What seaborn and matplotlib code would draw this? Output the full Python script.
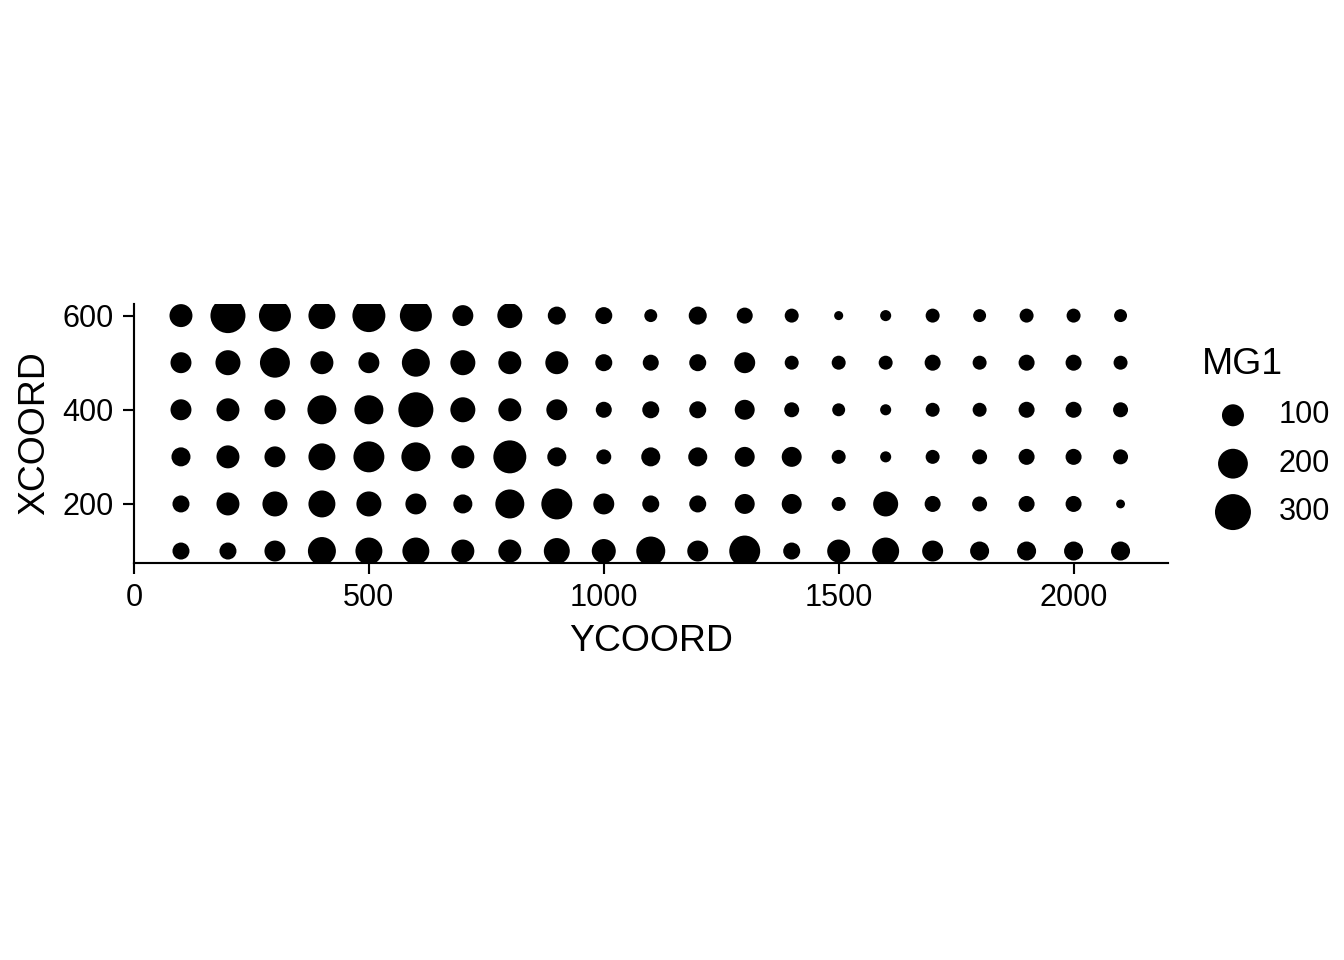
import matplotlib
matplotlib.use("Agg")
import matplotlib.pyplot as plt
import numpy as np
import pandas as pd
import seaborn as sns

sns.set_style("ticks")
plt.rcParams["font.family"] = ["Liberation Sans", "DejaVu Sans"]
plt.rcParams["text.color"] = "black"
plt.rcParams["axes.labelcolor"] = "black"

# Grid coordinates
YCOORD = [100, 200, 300, 400, 500, 600, 700, 800, 900, 1000, 1100,
          1200, 1300, 1400, 1500, 1600, 1700, 1800, 1900, 2000, 2100]
XCOORD = [600, 500, 400, 300, 200, 100]

# MG1 values, one list per XCOORD row
MG1_600 = [111, 283, 233, 160, 249, 233, 89, 135, 61, 52, 22, 61, 44, 29, 1, 11, 29, 22, 29, 29, 22]
MG1_500 = [89, 135, 202, 111, 89, 174, 135, 111, 111, 52, 44, 52, 89, 29, 29, 29, 44, 29, 44, 44, 29]
MG1_400 = [89, 111, 89, 188, 188, 283, 135, 111, 89, 44, 52, 52, 79, 36, 22, 11, 29, 29, 44, 44, 36]
MG1_300 = [70, 111, 89, 160, 217, 188, 111, 249, 70, 36, 70, 70, 79, 79, 29, 11, 29, 36, 44, 44, 36]
MG1_200 = [52, 111, 135, 160, 135, 89, 70, 188, 217, 89, 52, 52, 79, 79, 29, 135, 44, 36, 44, 44, 0]
MG1_100 = [52, 52, 89, 174, 160, 160, 111, 111, 147, 123, 188, 89, 217, 52, 111, 160, 89, 70, 70, 70, 70]
LEGEND_VALUES = [100, 200, 300]

rows = [MG1_600, MG1_500, MG1_400, MG1_300, MG1_200, MG1_100]
df = pd.DataFrame([(y, x, v) for x, row in zip(XCOORD, rows)
                   for y, v in zip(YCOORD, row)],
                  columns=["YCOORD", "XCOORD", "MG1"])

SMIN, SMAX, NORM = 11, 182, (0, 300)


def size_of(v):
    return SMIN + (SMAX - SMIN) * (v - NORM[0]) / (NORM[1] - NORM[0])


fig = plt.figure(figsize=(7, 5), dpi=192)
ax = fig.add_axes([0.0997, 0.4135, 0.769, 0.27])
sns.scatterplot(data=df, x="YCOORD", y="XCOORD", size="MG1",
                sizes=(SMIN, SMAX), size_norm=NORM, color="black",
                edgecolor="none", legend=False, ax=ax)
ax.set(xlim=(0, 2200), ylim=(74.5, 625),
       xticks=[0, 500, 1000, 1500, 2000], yticks=[200, 400, 600])
ax.set_xlabel("YCOORD", fontsize=14)
ax.set_ylabel("XCOORD", fontsize=14)
ax.tick_params(labelsize=11.5, colors="black", length=4, width=0.8)
for s in ["top", "right"]:
    ax.spines[s].set_visible(False)
for s in ["left", "bottom"]:
    ax.spines[s].set_color("black")
    ax.spines[s].set_linewidth(0.8)

handles = [ax.scatter([], [], s=size_of(v), color="black", edgecolor="none")
           for v in LEGEND_VALUES]
leg = fig.legend(handles, [str(v) for v in LEGEND_VALUES], title="MG1",
                 loc="upper left", bbox_to_anchor=(0.89, 0.645), frameon=False,
                 fontsize=11.5, title_fontsize=14, labelspacing=0.6,
                 handletextpad=0.5, borderaxespad=0, borderpad=0.2)
leg._legend_box.align = "left"

fig.savefig("out.png", dpi=192, facecolor="white")
